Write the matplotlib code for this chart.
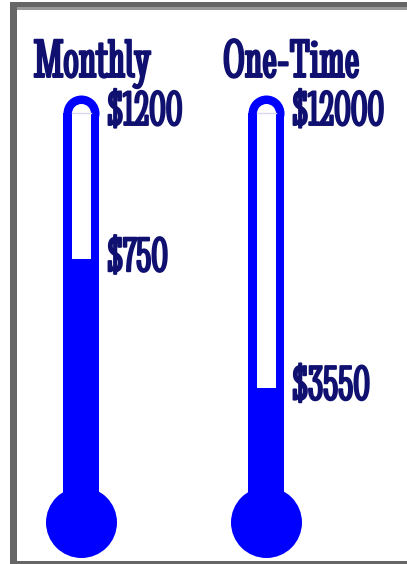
import matplotlib
matplotlib.use("Agg")
import matplotlib.pyplot as plt
import matplotlib.patheffects as pe
from matplotlib.patches import Rectangle

# thermometer data
titles = ["Monthly", "One-Time"]
goals = [1200, 12000]
raised = [750, 3550]

W, H = 407, 564
blue = "#0000ff"
navy = "#101070"
font = "Stint Ultra Condensed"
bold = [pe.withStroke(linewidth=1.4, foreground=navy)]

fig = plt.figure(figsize=(W / 100, H / 100), dpi=100)

# background axes in pixel units for the frame
bg = fig.add_axes([0, 0, 1, 1])
bg.set_xlim(0, W)
bg.set_ylim(H, 0)
bg.axis("off")
bg.add_patch(Rectangle((10, 2), W, 5, color="#666666", lw=0))
bg.add_patch(Rectangle((17, 7), W, 2.5, color="#999999", lw=0))
bg.add_patch(Rectangle((10, 2), 7, H, color="#666666", lw=0))
bg.add_patch(Rectangle((10, 560.5), W, 4, color="#666666", lw=0))

tube_x = [63, 248]      # left edge of tube, px
title_x = [92, 291]     # title centre, px
tube_w = 36
inner = 19 / tube_w
top_px, zero_px, bulb_px = 113, 503, 522

for i in range(2):
    goal, val = goals[i], raised[i]
    ax = fig.add_axes([tube_x[i] / W, (H - bulb_px) / H,
                       tube_w / W, (bulb_px - top_px) / H])
    ymin = -goal * (bulb_px - zero_px) / (zero_px - top_px)
    ax.set_xlim(0, 1)
    ax.set_ylim(ymin, goal)
    ax.axis("off")

    # glass + mercury
    ax.bar(0.5, goal - ymin, bottom=ymin, width=1, color=blue, clip_on=False, zorder=1)
    ax.plot(0.5, goal, "o", ms=tube_w * 0.72, color=blue, mew=0, clip_on=False, zorder=1)
    ax.plot(0.5, 0, "o", ms=71 * 0.72, color=blue, mew=0,
            transform=ax.transAxes, clip_on=False, zorder=1)
    # empty part of the tube
    ax.bar(0.5, goal - val, bottom=val, width=inner, color="white", clip_on=False, zorder=3)
    ax.plot(0.5, goal, "o", ms=19 * 0.72, color="white", mew=0, clip_on=False, zorder=3)
    ax.plot([0.5 - inner / 2, 0.5 + inner / 2], [goal, goal],
            color="#d8d8f4", lw=1, clip_on=False, zorder=4)

    for v in (goal, val):
        ax.annotate(f"${v}", xy=(1, v), xytext=(6, 0), textcoords="offset points",
                    va="center", ha="left", fontsize=36, family=font,
                    color=navy, path_effects=bold, annotation_clip=False)

    fig.text(title_x[i] / W, 1 - 77 / H, titles[i], ha="center", va="baseline",
             fontsize=40, family=font, color=navy, path_effects=bold)

fig.savefig("out.png", dpi=100)
